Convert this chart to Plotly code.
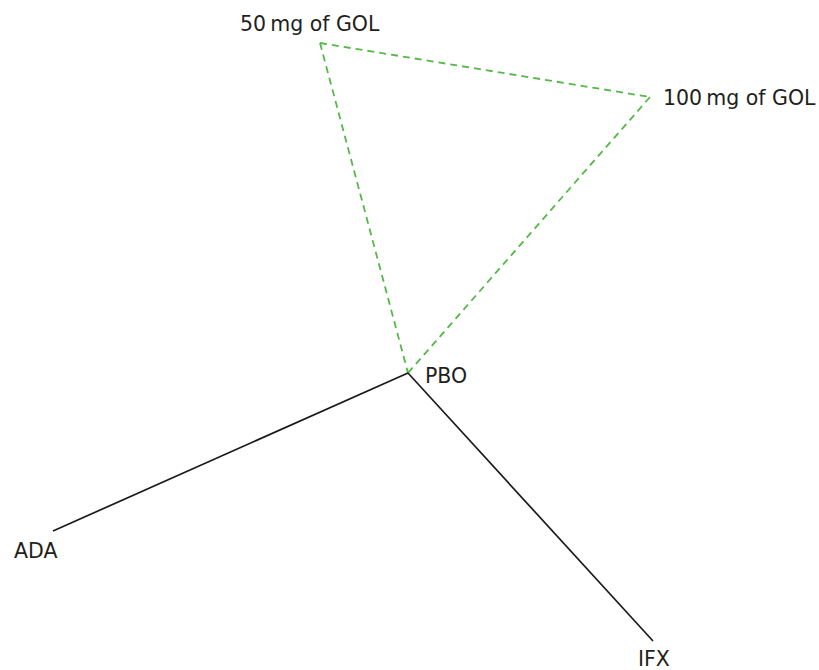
import plotly.graph_objects as go

# Network nodes (layout coordinates, pixel space)
node_names = ["50\u2009mg of GOL", "100\u2009mg of GOL", "PBO", "ADA", "IFX"]
node_x = [320, 650, 408, 53, 653]
node_y = [43, 97, 373, 531, 641]

# Edges: (from, to)
dashed_edges = [(0, 1), (0, 2), (1, 2)]
solid_edges = [(2, 3), (2, 4)]

# label placement style: (dx, dy, xanchor)
label_style = {
    0: (-10, -19, "center"),
    1: (12, 1, "left"),
    2: (16, 3, "left"),
    3: (-18, 20, "center"),
    4: (1, 18, "center"),
}

W, H = 819, 670

fig = go.Figure()

for a, b in dashed_edges:
    fig.add_trace(go.Scatter(
        x=[node_x[a], node_x[b]], y=[node_y[a], node_y[b]],
        mode="lines", line=dict(color="#55b848", width=1.8, dash="7px,5px"),
        hoverinfo="skip", showlegend=False))

for a, b in solid_edges:
    fig.add_trace(go.Scatter(
        x=[node_x[a], node_x[b]], y=[node_y[a], node_y[b]],
        mode="lines", line=dict(color="#1a1a1a", width=1.7),
        hoverinfo="skip", showlegend=False))

for i, name in enumerate(node_names):
    dx, dy, xa = label_style[i]
    fig.add_annotation(x=node_x[i] + dx, y=node_y[i] + dy, text=name,
                       showarrow=False, xanchor=xa, yanchor="middle",
                       borderpad=0,
                       font=dict(family="DejaVu Sans", size=20.5, color="#231f20"))

fig.update_layout(
    width=W, height=H,
    margin=dict(l=0, r=0, t=0, b=0),
    paper_bgcolor="white", plot_bgcolor="white",
    xaxis=dict(range=[0, W], visible=False, fixedrange=True),
    yaxis=dict(range=[H, 0], visible=False, fixedrange=True),
)

fig.write_html(
    "out.html",
    config={"displayModeBar": False},
    post_script="document.body.style.margin='0';document.body.style.overflow='hidden';",
)
